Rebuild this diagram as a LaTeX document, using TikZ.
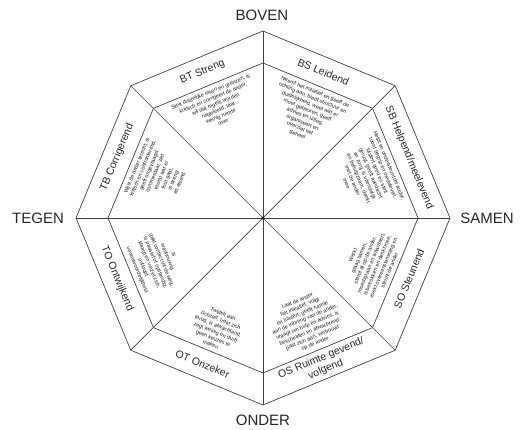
\documentclass[tikz,border=0pt]{standalone}
\usepackage{fontspec}
\setmainfont{Liberation Sans}
\begin{document}
\begin{tikzpicture}[x=1pt,y=1pt,
  edge/.style={draw=black!75,line width=0.7pt},
  axislab/.style={font=\fontsize{15}{17}\selectfont,text=black!85,inner sep=0pt},
  seclab/.style={font=\fontsize{10.5}{12}\selectfont,text=black!85,align=center,inner sep=0pt},
  body/.style={font=\fontsize{5.4}{6.6}\selectfont,text=black!90,align=center,inner sep=0pt}]
\useasboundingbox (-263,-212) rectangle (257,218);
\coordinate (C) at (0,0);
\foreach \i in {0,...,7} {
  \coordinate (o\i) at (\i*45:187);
  \coordinate (n\i) at (\i*45:155);
}
\draw[edge] (o0)--(o1)--(o2)--(o3)--(o4)--(o5)--(o6)--(o7)--cycle;
\draw[edge] (n0)--(n1)--(n2)--(n3)--(n4)--(n5)--(n6)--(n7)--cycle;
\foreach \i in {0,...,7} \draw[edge] (C) -- (o\i);
\fill[black] (C) circle (1.6);

% axis labels
\node[axislab] (boven) at (-1,203) {BOVEN};
\node[axislab] (samen) at (224,0) {SAMEN};
\node[axislab] (onder) at (0,-202) {ONDER};
\node[axislab] (tegen) at (-225,0) {TEGEN};

% sector labels (upper: rotate m-90, lower: rotate m+90)
\node[seclab,rotate=-22.5] (bs) at (67.5:158) {BS Leidend};
\node[seclab,rotate=22.5] (bt) at (112.5:158) {BT Streng};
\node[seclab,rotate=-67.5] (sb) at (22.5:158) {SB Helpend/meelevend};
\node[seclab,rotate=67.5] (tb) at (157.5:158) {TB Corrigerend};
\node[seclab,rotate=67.5] (so) at (-22.5:158) {SO Steunend};
\node[seclab,rotate=22.5] (os) at (-67.5:158) {OS Ruimte gevend/\\volgend};
\node[seclab,rotate=-22.5] (ot) at (-112.5:158) {OT Onzeker};
\node[seclab,rotate=-67.5] (to) at (-157.5:158) {TO Ontwijkend};

% body texts
\node[body,rotate=22.5,anchor=north] (btb) at (112.5:139) {Stelt duidelijke eisen en grenzen, is\\kritisch en corrigeert de ander,\\wil dat regels worden\\nageleefd, laat\\weinig ruimte\\over};
\node[body,rotate=-22.5,anchor=north] (bsb) at (67.5:139) {Neemt het initiatief en geeft de\\richting aan, biedt structuur en\\duidelijkheid, weet wat er\\moet gebeuren, geeft\\advies en uitleg,\\organiseert en\\overziet het\\geheel};
\node[body,rotate=-67.5,anchor=north] (sbb) at (22.5:139) {Helpt en ondersteunt de ander,\\toont begrip en medeleven,\\luistert goed en stelt\\gerust, geeft aandacht\\en zorg, is vriendelijk\\en behulpzaam, denkt\\met de ander\\mee};
\node[body,rotate=67.5,anchor=south] (sob) at (-22.5:139) {Werkt\\graag samen,\\stemt af op de ander,\\moedigt aan en waardeert,\\is betrokken en denkt mee,\\zoekt overeenstemming en\\steunt de ander};
\node[body,rotate=22.5,anchor=south] (osb) at (-67.5:139) {Laat de ander\\het initiatief, volgt\\en luistert, geeft ruimte\\aan de inbreng van de ander,\\vraagt om hulp en advies, is\\bescheiden en afwachtend,\\past zich aan, vertrouwt\\op de ander};
\node[body,rotate=-22.5,anchor=south] (otb) at (-112.5:139) {Twijfelt aan\\zichzelf, trekt zich\\terug, is afwachtend,\\zegt weinig en durft\\geen keuzes te\\maken};
\node[body,rotate=-67.5,anchor=south] (tob) at (-157.5:139) {Is\\wantrouwig,\\gaat contact uit de weg,\\is passief of opstandig,\\klaagt en verzet zich,\\ontloopt\\verantwoordelijkheid};
\node[body,rotate=67.5,anchor=north] (tbb) at (157.5:139) {Wijst de ander terecht, is\\kritisch en confronterend,\\geeft ongevraagd\\commentaar, ziet\\vooral wat er\\fout gaat,\\is streng\\en eisend};
\end{tikzpicture}
\end{document}
